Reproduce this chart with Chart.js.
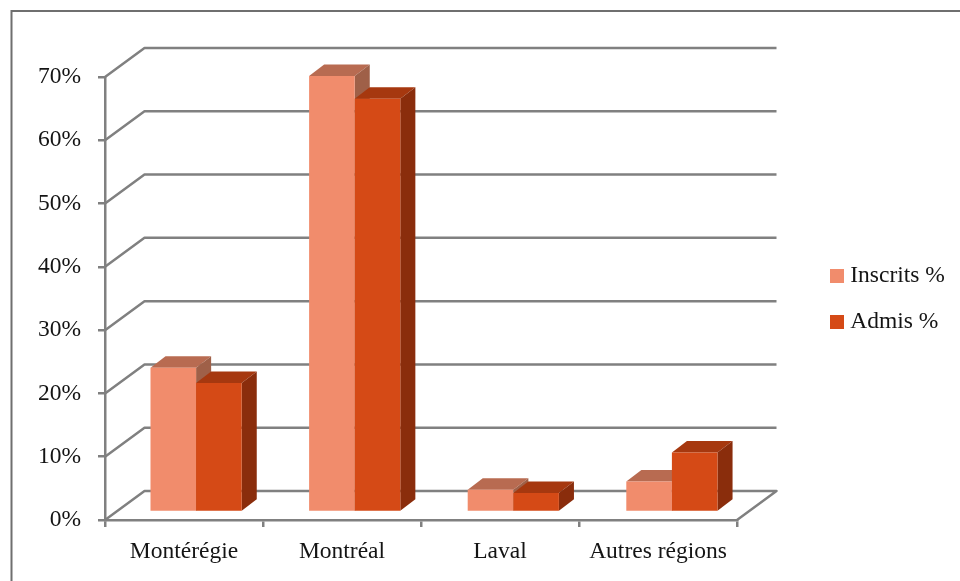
<!DOCTYPE html>
<html>
<head>
<meta charset="utf-8">
<title>Inscrits et admis par région</title>
<script src="https://cdn.jsdelivr.net/npm/chart.js@4"></script>
<style>
  html, body { margin: 0; background: #fff; }
  canvas { display: block; }
</style>
</head>
<body>
<canvas id="regionsChart" width="960" height="581"></canvas>
<script>
const regions = ["Montérégie", "Montréal", "Laval", "Autres régions"];
const inscrits = [22.8, 68.9, 3.5, 4.8];
const admis = [20.4, 65.3, 3.0, 9.4];
const percentTicks = [0, 10, 20, 30, 40, 50, 60, 70];

const axisGray = "#808080";
const axisWidth = 2.5;
const textColor = "#141414";
const chartFont = { family: "'Liberation Serif', serif", size: 23.5 };

// Depth of the walls and of the bars, in pixels
const wallDepth = { x: 39.5, y: -29 };
const barDepth = { x: 15, y: -11.5 };
// Bars stand in a plane between the front edge of the floor and the back wall
const barPlane = { stretch: 1.0038, x: 11.4, y: -8 };
const legendLeft = 813;

const faces = {
  Inscrits: { top: "#b86b51", side: "#9f6048" },
  Admis: { top: "#a6380f", side: "#8a2d0c" },
};

function swatch(color) {
  const c = document.createElement("canvas");
  c.width = 14;
  c.height = 14;
  const g = c.getContext("2d");
  g.fillStyle = color;
  g.fillRect(0, 0, 14, 14);
  return c;
}

function polygon(ctx, color, points) {
  ctx.fillStyle = color;
  ctx.beginPath();
  points.forEach(([x, y], i) => (i ? ctx.lineTo(x, y) : ctx.moveTo(x, y)));
  ctx.closePath();
  ctx.fill();
}

const framePlugin = {
  id: "frame",
  beforeDraw(chart) {
    const ctx = chart.ctx;
    ctx.save();
    ctx.strokeStyle = "#6f6f6f";
    ctx.lineWidth = 2;
    ctx.beginPath();
    ctx.moveTo(11.5, chart.height);
    ctx.lineTo(11.5, 11);
    ctx.lineTo(chart.width, 11);
    ctx.stroke();
    ctx.restore();
  },
};

const box3dPlugin = {
  id: "box3d",
  // The legend is laid out inside the chart area, move it out to the right
  afterLayout(chart) {
    chart.legend.left = legendLeft;
    chart.legend.right = chart.width;
    chart.legend.top = chart.chartArea.top;
    chart.legend.bottom = chart.chartArea.bottom;
  },
  beforeDatasetsDraw(chart) {
    const ctx = chart.ctx;
    const yScale = chart.scales.y;
    const left = chart.chartArea.left;
    const right = chart.chartArea.right;

    // Left wall, back wall and right edge of the floor
    ctx.save();
    ctx.strokeStyle = axisGray;
    ctx.lineWidth = axisWidth;
    ctx.lineJoin = "round";
    yScale.ticks.forEach((tick) => {
      const y = yScale.getPixelForValue(tick.value);
      ctx.beginPath();
      ctx.moveTo(left, y);
      ctx.lineTo(left + wallDepth.x, y + wallDepth.y);
      ctx.lineTo(right + wallDepth.x, y + wallDepth.y);
      if (tick.value === 0) ctx.lineTo(right, y);
      ctx.stroke();
    });
    ctx.restore();

    // Inscrits goes first so that Admis covers its side face
    ctx.save();
    ctx.transform(barPlane.stretch, 0, 0, 1, barPlane.x, barPlane.y);
    chart.data.datasets.forEach((dataset, index) => {
      const meta = chart.getDatasetMeta(index);
      const colors = faces[dataset.label.split(" ")[0]];
      meta.data.forEach((bar) => {
        const l = bar.x - bar.width / 2;
        const r = bar.x + bar.width / 2;
        polygon(ctx, colors.top, [
          [l, bar.y],
          [l + barDepth.x, bar.y + barDepth.y],
          [r + barDepth.x, bar.y + barDepth.y],
          [r, bar.y],
        ]);
        polygon(ctx, colors.side, [
          [r, bar.y],
          [r + barDepth.x, bar.y + barDepth.y],
          [r + barDepth.x, bar.base + barDepth.y],
          [r, bar.base],
        ]);
      });
      meta.controller.draw();
    });
    ctx.restore();
    return false;
  },
};

new Chart(document.getElementById("regionsChart"), {
  type: "bar",
  data: {
    labels: regions,
    datasets: [
      { label: "Inscrits %", data: inscrits, backgroundColor: "#f18c6c" },
      { label: "Admis %", data: admis, backgroundColor: "#d54a16" },
    ],
  },
  plugins: [framePlugin, box3dPlugin],
  options: {
    responsive: false,
    animation: false,
    layout: { padding: { top: 77, right: 223, bottom: 0, left: 0 } },
    datasets: { bar: { barPercentage: 1, categoryPercentage: 0.575, borderWidth: 0 } },
    scales: {
      x: {
        afterFit: (scale) => {
          scale.height = 61;
        },
        border: { color: axisGray, width: axisWidth },
        grid: { drawOnChartArea: false, color: axisGray, lineWidth: axisWidth, tickLength: 7 },
        ticks: { color: textColor, font: chartFont, padding: 11, maxRotation: 0, autoSkip: false },
      },
      y: {
        min: 0,
        max: 70,
        afterFit: (scale) => {
          scale.width = 105;
        },
        afterBuildTicks: (scale) => {
          scale.ticks = percentTicks.map((value) => ({ value }));
        },
        border: { color: axisGray, width: axisWidth },
        grid: { drawOnChartArea: false, color: axisGray, lineWidth: axisWidth, tickLength: 7 },
        ticks: {
          color: textColor,
          font: chartFont,
          padding: 17,
          autoSkip: false,
          callback: (value) => value + "%",
        },
      },
    },
    plugins: {
      tooltip: { enabled: false },
      legend: {
        position: "chartArea",
        labels: {
          color: textColor,
          font: chartFont,
          usePointStyle: true,
          boxWidth: 3,
          padding: 22.5,
          generateLabels: (chart) =>
            chart.data.datasets.map((dataset, i) => ({
              text: dataset.label,
              fontColor: textColor,
              pointStyle: swatch(dataset.backgroundColor),
              datasetIndex: i,
            })),
        },
      },
    },
  },
});
</script>
</body>
</html>
